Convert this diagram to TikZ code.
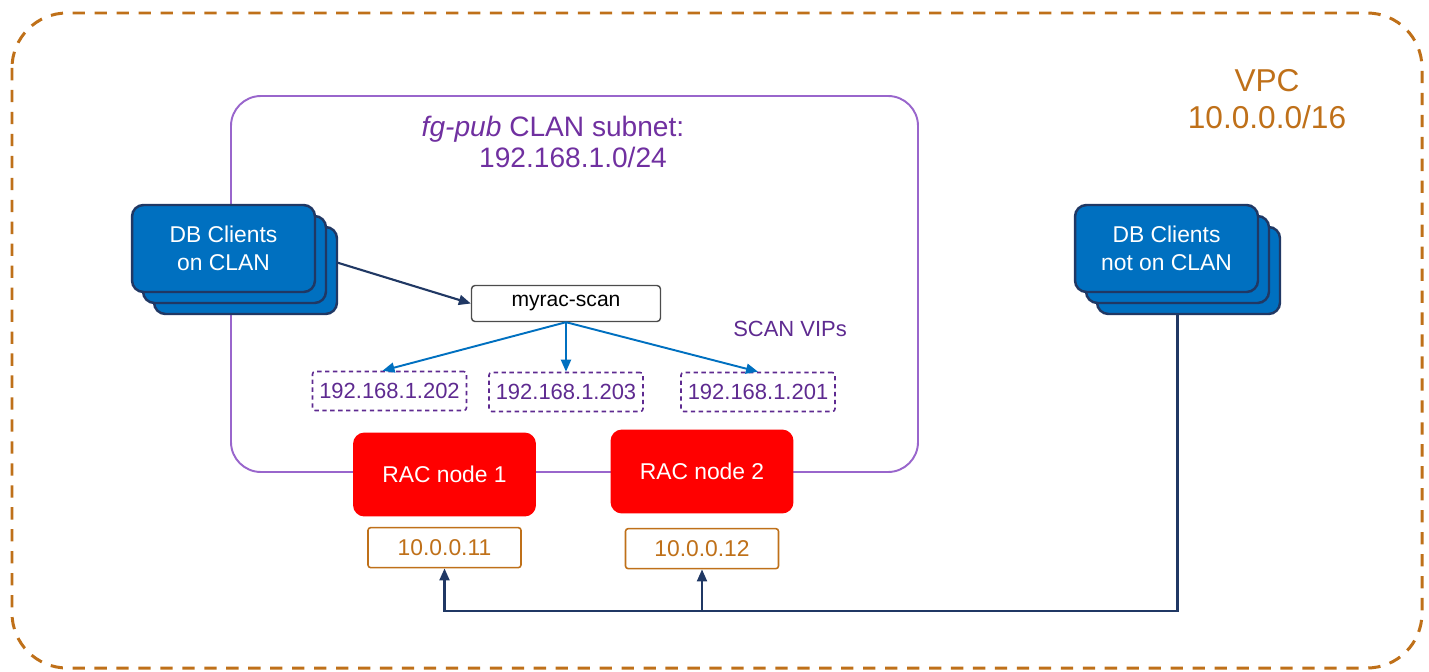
\documentclass[tikz,border=0pt]{standalone}
\usepackage{fontspec}
\setmainfont{Liberation Sans}
\usetikzlibrary{arrows.meta, positioning, calc, backgrounds}
\definecolor{Copper}{HTML}{BF7019}
\definecolor{Lilac}{HTML}{9966CC}
\definecolor{Grape}{HTML}{7030A0}
\definecolor{Plum}{HTML}{5E2A90}
\definecolor{Ocean}{HTML}{0070C0}
\definecolor{Navy}{HTML}{203864}
\definecolor{Signal}{HTML}{FF0000}

\begin{document}
\begin{tikzpicture}[
      x=0.02cm, y=-0.02cm,
      vpc/.style={draw=Copper, line width=1.7pt, dash pattern=on 7pt off 5.5pt, rounded corners=1.1cm},
      subnet/.style={draw=Lilac, line width=1.1pt, rounded corners=0.6cm},
      client/.style={rectangle, rounded corners=6.5pt, draw=Navy, line width=1.4pt, fill=Ocean, minimum width=3.66cm, minimum height=1.74cm, align=center, text=white, font=\fontsize{13}{16}\selectfont},
      scan/.style={rectangle, rounded corners=2pt, draw=black!70, line width=0.8pt, fill=white, minimum width=3.78cm, minimum height=0.72cm, font=\fontsize{12}{14}\selectfont},
      vip/.style={rectangle, rounded corners=1.5pt, draw=Plum, line width=0.9pt, dash pattern=on 2.5pt off 2pt, minimum width=3.08cm, minimum height=0.78cm, text=Plum, font=\fontsize{12.5}{15}\selectfont},
      rac/.style={rectangle, rounded corners=6.5pt, fill=Signal, minimum width=3.66cm, minimum height=1.68cm, text=white, font=\fontsize{13}{16}\selectfont},
      ip/.style={rectangle, rounded corners=1.5pt, draw=Copper, line width=0.9pt, fill=white, minimum width=3.06cm, minimum height=0.8cm, text=Copper, font=\fontsize{13}{16}\selectfont},
      arrow/.style={-{Triangle[length=2.4mm, width=2mm]}, line width=1.2pt, Navy},
      fanarrow/.style={-{Triangle[length=2.4mm, width=2mm]}, line width=1.1pt, Ocean},
  ]
  \useasboundingbox (0,0) rectangle (1429,672);

  % Frames
  \draw[vpc] (12,13) rectangle (1422,668);
  \draw[subnet] (231,96) rectangle (918,472);
  \node[align=center, text=Copper, font=\fontsize{18}{21}\selectfont] (vpclabel) at (1267,99) {VPC\\10.0.0.0/16};
  \node[align=center, text=Grape, font=\fontsize{16}{17.6}\selectfont] (subnetlabel) at (553,142) {\textit{fg-pub} CLAN subnet:\\\hspace*{0.8cm}192.168.1.0/24};

  % Clients
  \node[client] (clan3) at (245.5,270.5) {};
  \node[client] (clan2) at (234.5,259.5) {};
  \node[client] (clan1) at (223.5,248.5) {DB Clients\\on CLAN};
  \node[client] (notclan3) at (1188.5,270.5) {};
  \node[client] (notclan2) at (1177.5,259.5) {};
  \node[client] (notclan1) at (1166.5,248.5) {DB Clients\\not on CLAN};

  % SCAN
  \node[scan] (scan) at (566,303.5) {myrac-scan};
  \node[text=Plum, font=\fontsize{12.5}{15}\selectfont] (vipslabel) at (790,329) {SCAN VIPs};
  \node[vip] (vip1) at (389.5,391) {192.168.1.202};
  \node[vip] (vip2) at (566,392) {192.168.1.203};
  \node[vip] (vip3) at (758,392) {192.168.1.201};

  % RAC nodes
  \node[rac] (rac1) at (444.5,474.5) {RAC node 1};
  \node[rac] (rac2) at (702,471.5) {RAC node 2};
  \node[ip, below=0.2cm of rac1] (ip1) {10.0.0.11};
  \node[ip, below=0.28cm of rac2] (ip2) {10.0.0.12};

  % Arrows
  \begin{scope}[on background layer]
    \draw[arrow] (clan2.east) -- (scan.west);
    \coordinate (bus) at ($(ip1.south)+(0,43)$);
    \draw[arrow] (notclan2.south) |- (bus) -- (ip1.south);
    \draw[arrow] (ip2.south |- bus) -- (ip2.south);
  \end{scope}
  \draw[fanarrow] (scan.south) -- ([xshift=-4pt]vip1.north);
  \draw[fanarrow] (scan.south) -- (vip2.north);
  \draw[fanarrow] (scan.south) -- (vip3.north);

  \end{tikzpicture}
\end{document}
